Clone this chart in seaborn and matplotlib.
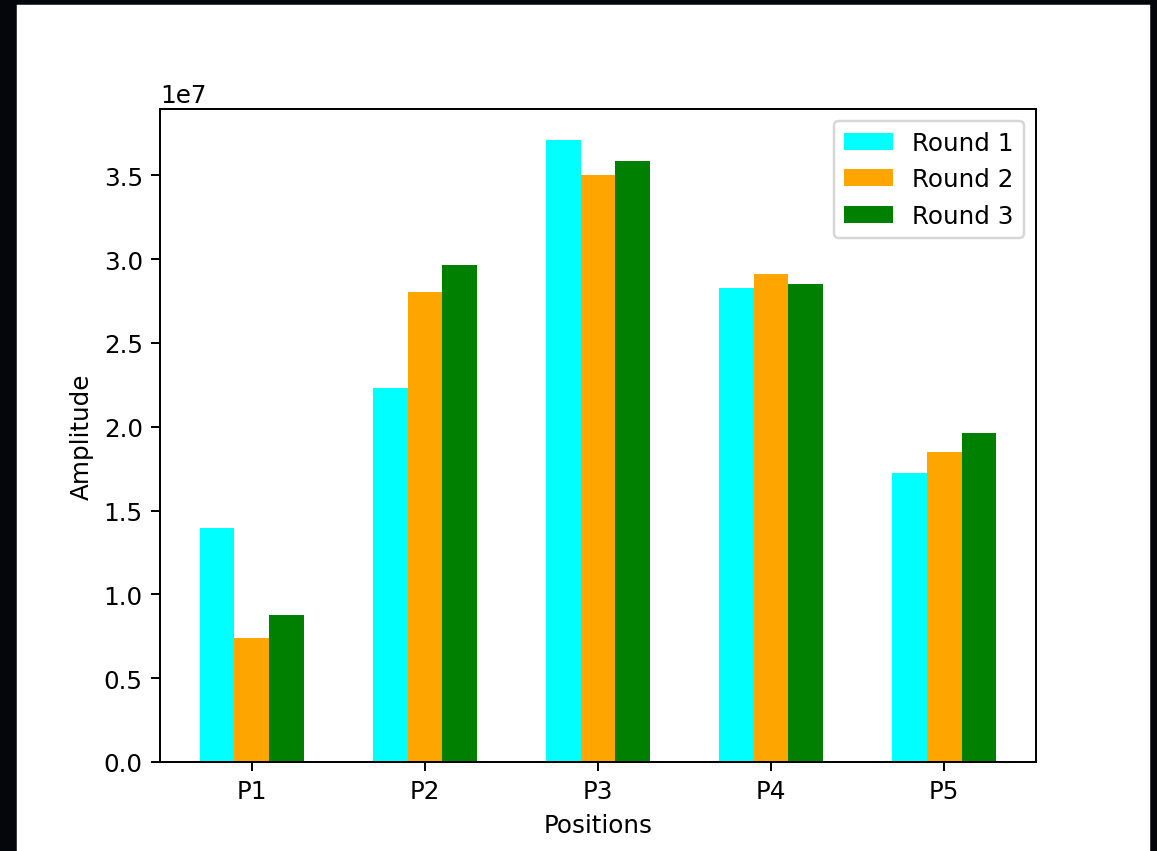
import pandas as pd
import matplotlib
matplotlib.use("Agg")
import matplotlib.pyplot as plt
from matplotlib.patches import Rectangle
import seaborn as sns

positions = ["P1", "P2", "P3", "P4", "P5"]
rounds = ["Round 1", "Round 2", "Round 3"]
round1 = [1.395e7, 2.230e7, 3.710e7, 2.826e7, 1.724e7]
round2 = [0.742e7, 2.805e7, 3.500e7, 2.911e7, 1.849e7]
round3 = [0.877e7, 2.964e7, 3.585e7, 2.849e7, 1.962e7]
colors = ["cyan", "orange", "green"]

# long table for seaborn
rows = []
for r, vals in zip(rounds, [round1, round2, round3]):
    for p, v in zip(positions, vals):
        rows.append({"Positions": p, "Amplitude": v, "Round": r})
df = pd.DataFrame(rows)

dpi = 177
fig = plt.figure(figsize=(1157 / dpi, 852 / dpi), dpi=dpi, facecolor="#04060b")
# white figure area inside the dark screenshot border
fig.add_artist(Rectangle((18 / 1157, 0), (1149 - 18) / 1157, (852 - 7) / 852,
                         transform=fig.transFigure, color="white", zorder=-10))
ax = fig.add_axes([160 / 1157, 1 - 763 / 852, (1036 - 160) / 1157, (763 - 110) / 852])

sns.barplot(data=df, x="Positions", y="Amplitude", hue="Round", palette=colors,
            saturation=1, width=0.6, ax=ax, errorbar=None)

ax.set_xlim(-0.53, 4.53)
ax.set_ylim(0, 3.710e7 * 1.05)
ax.set_xlabel("Positions")
ax.set_ylabel("Amplitude")
sns.move_legend(ax, "upper right", title=None)

fig.savefig("out.png", dpi=dpi, facecolor=fig.get_facecolor())
